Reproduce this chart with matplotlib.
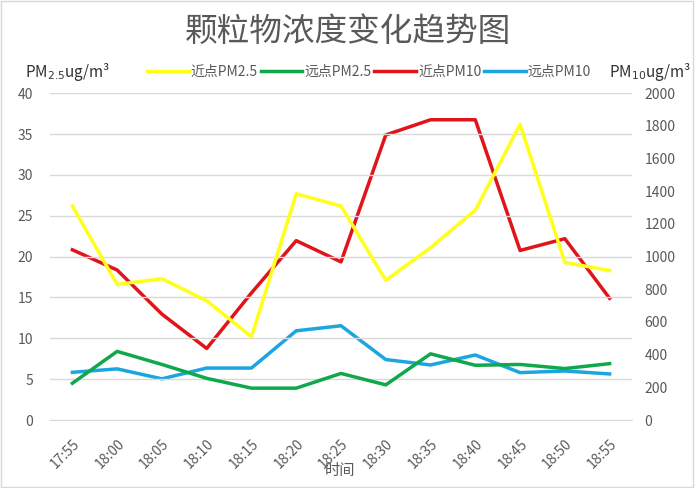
import matplotlib
matplotlib.use("Agg")
import matplotlib.pyplot as plt
from matplotlib.patches import Rectangle

plt.rcParams['font.family'] = ['Noto Sans CJK SC', 'DejaVu Sans']

times = ["17:55", "18:00", "18:05", "18:10", "18:15", "18:20", "18:25",
         "18:30", "18:35", "18:40", "18:45", "18:50", "18:55"]
near_pm25 = [26.2, 16.6, 17.3, 14.6, 10.2, 27.7, 26.2, 17.1, 21.1, 25.7, 36.2, 19.3, 18.3]
far_pm25 = [4.5, 8.4, 6.8, 5.1, 3.9, 3.9, 5.7, 4.3, 8.1, 6.7, 6.8, 6.3, 6.9]
near_pm10 = [1042, 918, 648, 438, 778, 1098, 968, 1745, 1838, 1838, 1038, 1110, 745]
far_pm10 = [292, 313, 252, 318, 318, 546, 577, 370, 337, 398, 290, 300, 282]

grey = "#595959"

fig = plt.figure(figsize=(6.96, 4.88), dpi=100)
ax = fig.add_axes([50/696, 68/488, 582/696, 326.7/488])
ax2 = ax.twinx()

x = list(range(len(times)))
lw = 2.5
l1, = ax.plot(x, near_pm25, color="#FFFF1A", lw=lw, label="近点PM2.5")
l2, = ax.plot(x, far_pm25, color="#0FA84A", lw=lw, label="远点PM2.5")
l3, = ax2.plot(x, near_pm10, color="#E0141A", lw=lw, label="近点PM10")
l4, = ax2.plot(x, far_pm10, color="#1CA6E0", lw=lw, label="远点PM10")
ax.set_zorder(ax2.get_zorder() + 1)
ax.patch.set_visible(False)

ax.set_xlim(-0.5, 12.5)
ax.set_ylim(0, 40)
ax2.set_ylim(0, 2000)
ax.set_yticks(range(0, 41, 5))
ax2.set_yticks(range(0, 2001, 200))
ax.set_xticks(x)
ax.set_xticklabels(times, rotation=45, ha="right", rotation_mode="anchor")
ax.grid(axis="y", color="#D9D9D9", lw=1)
ax2.grid(False)

for a in (ax, ax2):
    for s in a.spines.values():
        s.set_visible(False)
    a.tick_params(length=0, colors=grey, labelsize=10)
ax.spines["bottom"].set_visible(True)
ax.spines["bottom"].set_color("#D9D9D9")
ax.tick_params(axis="y", pad=12)
ax2.tick_params(axis="y", pad=9)
ax.tick_params(axis="x", pad=12)

# axis title sits over the rotated tick labels, as in the original
fig.text(340/696, 1 - 470/488, "时间", ha="center", va="center", fontsize=11, color=grey)

fig.text(0.5, 1 - 32/488, "颗粒物浓度变化趋势图", ha="center", va="center",
         fontsize=23.5, color=grey, fontweight="light")
fig.text(25/696, 0.852, "PM$_{2.5}$ug/m³", ha="left", va="center", fontsize=11, color="#333333")
fig.text(691/696, 0.852, "PM$_{10}$ug/m³", ha="right", va="center", fontsize=11, color="#333333")

fig.legend(handles=[l1, l2, l3, l4], loc="center", bbox_to_anchor=(369/696, 0.852),
           ncol=4, frameon=False, fontsize=10, handlelength=3.0, handletextpad=0.15,
           columnspacing=0.2, labelcolor=grey)

fig.patches.append(Rectangle((0.001, 0.002), 0.994, 0.996, transform=fig.transFigure,
                             fill=False, edgecolor="#D9D9D9", lw=1))

fig.savefig("out.png", dpi=100)
